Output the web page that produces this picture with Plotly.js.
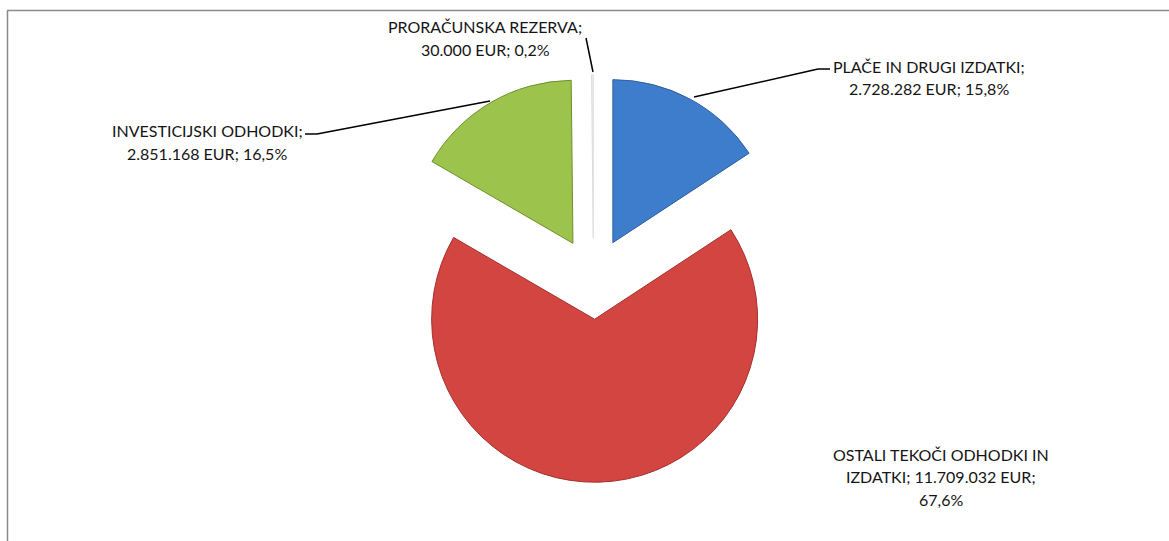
<!DOCTYPE html>
<html>
<head>
<meta charset="utf-8">
<script src="https://cdn.plot.ly/plotly-3.0.1.min.js"></script>
<style>html,body{margin:0;padding:0;background:#fff;}#chart{width:1169px;height:541px;}</style>
</head>
<body>
<div id="chart"></div>
<script>
// ---- data ----
const labels = ['PLAČE IN DRUGI IZDATKI', 'OSTALI TEKOČI ODHODKI IN IZDATKI', 'INVESTICIJSKI ODHODKI', 'PRORAČUNSKA REZERVA'];
const values = [2728282, 11709032, 2851168, 30000];
const colors = ['#3E7DCC', '#D34541', '#9CC34C', '#EDEDED'];
const lineColors = ['#2E5F9E', '#A3302D', '#6F8F2F', '#DDDDDD'];

// ---- layout helpers ----
const W = 1169, H = 541;
const px = x => x / W;
const py = y => 1 - y / H;

const total = values.reduce((a, b) => a + b, 0);
const fmtInt = v => String(v).replace(/\B(?=(\d{3})+(?!\d))/g, '.');
const fmtPct = v => (v / total * 100).toFixed(1).replace('.', ',') + '%';

function wrap(str, max) {
  const words = str.split(' ');
  const lines = [];
  let cur = '';
  words.forEach(w => {
    if (cur && (cur + ' ' + w).length > max) { lines.push(cur); cur = w; }
    else cur = cur ? cur + ' ' + w : w;
  });
  if (cur) lines.push(cur);
  return lines;
}

// label placement (pixel centres of first line)
const labelPos = [[929, 66], [941, 454.5], [207, 131], [485, 27]];
const lineStep = 22.5;

const annotations = [];
labels.forEach((name, i) => {
  const full = name + '; ' + fmtInt(values[i]) + ' EUR; ' + fmtPct(values[i]);
  wrap(full, 24).forEach((ln, k) => {
    annotations.push({
      xref: 'paper', yref: 'paper',
      x: px(labelPos[i][0]), y: py(labelPos[i][1] + k * lineStep),
      xanchor: 'center', yanchor: 'middle',
      text: ln, showarrow: false,
      font: {family: 'Lato, "Liberation Sans", sans-serif', size: 16, color: '#151515'}
    });
  });
});

// leader lines (pixel paths)
const leaders = [
  [[694, 97], [818, 69], [830, 69]],
  [[490, 101], [317, 134], [305, 134]],
  [[593, 72], [586, 38]]
];
const shapes = [];
leaders.forEach(pts => {
  for (let k = 0; k < pts.length - 1; k++) {
    shapes.push({type: 'line', xref: 'paper', yref: 'paper',
      x0: px(pts[k][0]), y0: py(pts[k][1]), x1: px(pts[k + 1][0]), y1: py(pts[k + 1][1]),
      line: {color: '#000', width: 1.5}});
  }
});
// chart frame (left and top)
shapes.push({type: 'line', xref: 'paper', yref: 'paper', x0: px(7.5), y0: py(10.5), x1: px(7.5), y1: 0, line: {color: '#8a8a8a', width: 1.5}});
shapes.push({type: 'line', xref: 'paper', yref: 'paper', x0: px(7), y0: py(10.5), x1: 1, y1: py(10.5), line: {color: '#8a8a8a', width: 1.5}});

// pie geometry
const pull = 0.25, r = 163, cx = 593.5, cy = 278.5;
const half = r * (1 + pull);

const trace = {
  type: 'pie',
  labels: labels,
  values: values,
  sort: false,
  direction: 'clockwise',
  rotation: 0,
  pull: values.map(() => pull),
  textinfo: 'none',
  hoverinfo: 'label+value+percent',
  marker: {colors: colors, line: {color: lineColors, width: 1}},
  domain: {x: [px(cx - half), px(cx + half)], y: [py(cy + half), py(cy - half)]},
  showlegend: false
};

const layout = {
  width: W, height: H,
  margin: {l: 0, r: 0, t: 0, b: 0},
  paper_bgcolor: '#ffffff',
  showlegend: false,
  annotations: annotations,
  shapes: shapes
};

Plotly.newPlot('chart', [trace], layout, {displayModeBar: false, staticPlot: true});
</script>
</body>
</html>
